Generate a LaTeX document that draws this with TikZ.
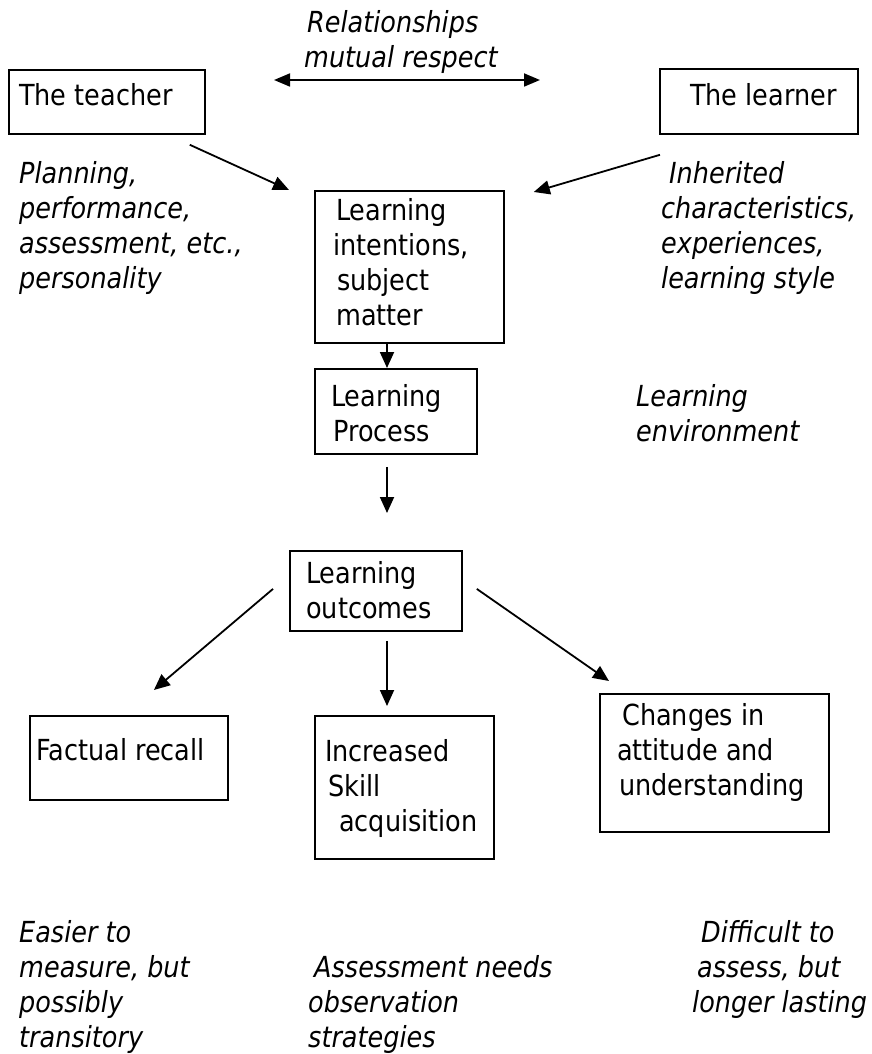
\documentclass[tikz,border=0pt]{standalone}
\usepackage{fontspec}
\setmainfont{DejaVu Sans}[FakeStretch=0.88]
\usetikzlibrary{arrows.meta}

\begin{document}
\begin{tikzpicture}[x=1pt, y=-1pt,
    every node/.style={font=\fontsize{29}{35}\selectfont},
    box/.style={draw, line width=1.8pt, inner sep=0pt, anchor=north west},
    txt/.style={inner sep=0pt, anchor=base west, align=left},
    note/.style={txt, font=\fontsize{29}{35}\selectfont\itshape},
    arr/.style={line width=1.8pt, -{Triangle[length=16pt,width=14pt]}},
    dbl/.style={line width=1.8pt, {Triangle[length=16pt,width=13pt]}-{Triangle[length=16pt,width=13pt]}}]
  \useasboundingbox (0,0) rectangle (871,1054);

  % boxes
  \node[box, minimum width=196pt, minimum height=64pt] (teacher) at (8,69) {};
  \node[box, minimum width=198pt, minimum height=65pt] (learner) at (659,68) {};
  \node[box, minimum width=189pt, minimum height=152pt] (intent) at (314,190) {};
  \node[box, minimum width=162pt, minimum height=85pt] (process) at (314,368) {};
  \node[box, minimum width=172pt, minimum height=80pt] (outcomes) at (289,550) {};
  \node[box, minimum width=198pt, minimum height=84pt] (factual) at (29,715) {};
  \node[box, minimum width=179pt, minimum height=143pt] (skill) at (314,715) {};
  \node[box, minimum width=229pt, minimum height=138pt] (change) at (599,693) {};

  % box texts (anchored on the baseline of the last line)
  \node[txt] (teachertxt) at (19,106) {The teacher};
  \node[txt] (learnertxt) at (690,106) {The learner};
  \node[txt] (intenttxt) at (333,325) {\hspace*{3pt}Learning\\intentions,\\\hspace*{4pt}subject\\\hspace*{3pt}matter};
  \node[txt] (processtxt) at (331,441) {Learning\\\hspace*{2pt}Process};
  \node[txt] (outcomestxt) at (306,618) {Learning\\outcomes};
  \node[txt] (factualtxt) at (36,760) {Factual recall};
  \node[txt] (skilltxt) at (325,831) {Increased\\\hspace*{3pt}Skill\\\hspace*{14pt}acquisition};
  \node[txt] (changetxt) at (617,795) {\hspace*{5pt}Changes in\\attitude and\\\hspace*{2pt}understanding};

  % notes
  \node[note] (rel) at (304,68) {\hspace*{3pt}Relationships\\mutual respect};
  \node[note] (plan) at (19,288) {Planning,\\performance,\\assessment, etc.,\\personality};
  \node[note] (inher) at (661,288) {\hspace*{8pt}Inherited\\characteristics,\\experiences,\\learning style};
  \node[note] (env) at (636,441) {Learning\\environment};
  \node[note] (easier) at (19,1047) {Easier to\\measure, but\\possibly\\transitory};
  \node[note] (assessn) at (308,1047) {\hspace*{6pt}Assessment needs\\observation\\strategies};
  \node[note] (diff) at (692,1012) {\hspace*{9pt}Difficult to\\\hspace*{5pt}assess, but\\longer lasting};

  % arrows
  \coordinate (relL) at (274,80);
  \coordinate (relR) at (540,80);
  \coordinate (axis) at (387,0);
  \draw[dbl] (relL) -- (relR);
  \draw[arr] ([shift={(-16,10)}]teacher.south east) -- ([xshift=-25pt]intent.north west);
  \draw[arr] ([shift={(1,20)}]learner.south west) -- ([shift={(29,2)}]intent.north east);
  \draw[arr] (intent.south -| axis) -- (process.north -| axis);
  \draw[arr, shorten <=12pt, shorten >=37pt] (process.south -| axis) -- (outcomes.north -| axis);
  \draw[arr, shorten <=9pt, shorten >=9pt] (outcomes.south -| axis) -- (skill.north -| axis);
  \draw[arr] ([shift={(-16,-2)}]outcomes.west) -- ([shift={(25,-25)}]factual.north);
  \draw[arr] ([shift={(14,-2)}]outcomes.east) -- ([shift={(10,-12)}]change.north west);
\end{tikzpicture}
\end{document}
